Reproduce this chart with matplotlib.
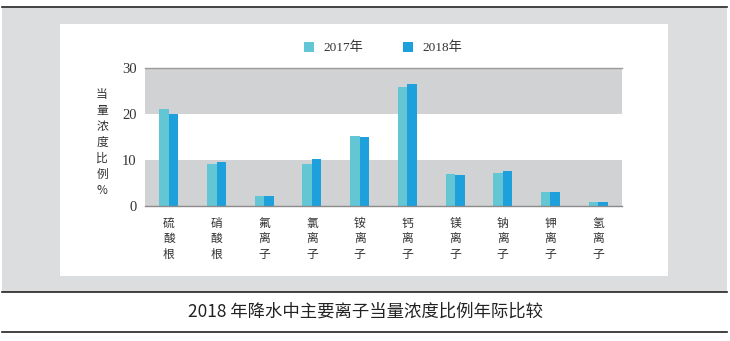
import numpy as np
import matplotlib
matplotlib.use("Agg")
import matplotlib.pyplot as plt
from matplotlib.patches import Rectangle
from matplotlib.lines import Line2D

plt.rcParams['font.family'] = ['Noto Sans CJK SC', 'DejaVu Sans']

# 数据
categories = ["硫酸根", "硝酸根", "氟离子", "氯离子", "铵离子",
              "钙离子", "镁离子", "钠离子", "钾离子", "氢离子"]
values_2017 = [21.1, 9.1, 2.2, 9.2, 15.3, 26.0, 7.0, 7.2, 3.0, 0.9]
values_2018 = [20.0, 9.6, 2.1, 10.1, 15.1, 26.6, 6.6, 7.5, 2.9, 0.8]
series_names = ["2017年", "2018年"]
y_ticks = [0, 10, 20, 30]
title = "2018 年降水中主要离子当量浓度比例年际比较"
y_label = "当量浓度比例%"

color_2017 = "#62c6d5"
color_2018 = "#1ea0dc"
band_gray = "#d1d2d4"
outer_gray = "#dcdddf"

W, H = 730, 341
fig = plt.figure(figsize=(W / 100, H / 100), dpi=100)
fig.patch.set_facecolor("white")


def fx(px):
    return px / W


def fy(py):
    return 1 - py / H


# 外框背景
fig.add_artist(Rectangle((fx(2), fy(292)), fx(725), 284 / H,
                         transform=fig.transFigure, facecolor=outer_gray,
                         edgecolor="none", zorder=0))
fig.add_artist(Rectangle((fx(60), fy(276)), fx(608), 252 / H,
                         transform=fig.transFigure, facecolor="white",
                         edgecolor="none", zorder=0))
for py in [7, 292, 332]:
    fig.add_artist(Line2D([fx(2), fx(727)], [fy(py), fy(py)],
                          transform=fig.transFigure, color="#222222",
                          linewidth=1.2, zorder=1))

ax = fig.add_axes([fx(145), fy(205.7), fx(477), 137.4 / H])
ax.set_facecolor("none")

# 灰白相间的背景带
ax.axhspan(0, 10, color=band_gray, zorder=0, linewidth=0)
ax.axhspan(20, 30, color=band_gray, zorder=0, linewidth=0)

x = np.arange(len(categories))
bw = 0.2
ax.bar(x - bw / 2, values_2017, width=bw, color=color_2017,
       label=series_names[0], zorder=2)
ax.bar(x + bw / 2, values_2018, width=bw, color=color_2018,
       label=series_names[1], zorder=2)

ax.set_xlim(-0.5, len(categories) - 0.5)
ax.set_ylim(0, 30)
ax.set_yticks(y_ticks)
ax.set_yticklabels([str(t) for t in y_ticks],
                   family=['Liberation Serif', 'Noto Sans CJK SC'],
                   fontsize=10.5, color="#333333")
ax.set_xticks(x)
ax.set_xticklabels(["\n".join(c) for c in categories], fontsize=8.5,
                   color="#333333", linespacing=1.25)
ax.tick_params(axis="both", length=0)
ax.tick_params(axis="y", pad=6)
ax.tick_params(axis="x", pad=8)

for side in ["right", "left"]:
    ax.spines[side].set_visible(False)
ax.spines["top"].set_color("#9a9a9a")
ax.spines["top"].set_linewidth(1.0)
ax.spines["bottom"].set_color("#8a8a8a")
ax.spines["bottom"].set_linewidth(1.0)

# 纵轴标题（竖排）
fig.text(fx(102), fy(142), "\n".join(y_label), ha="center", va="center",
         fontsize=8.5, color="#333333", linespacing=1.3,
         family=['Noto Sans CJK SC', 'DejaVu Sans'])

leg = fig.legend(loc="center", bbox_to_anchor=(fx(383), fy(48)), ncol=2,
                 frameon=False, handlelength=0.8,
                 handleheight=0.8, columnspacing=3.0, handletextpad=0.7,
                 prop={'family': ['Liberation Serif', 'Noto Sans CJK SC'],
                       'size': 9.5})
for t in leg.get_texts():
    t.set_color("#333333")

fig.text(0.5, fy(312), title, ha="center", va="center", fontsize=12.5,
         color="#222222")

fig.savefig("out.png", dpi=100)
